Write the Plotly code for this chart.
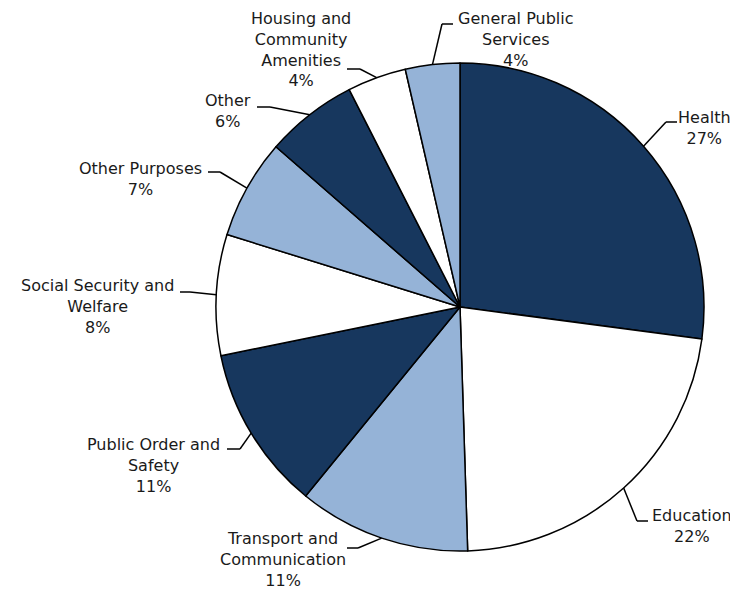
import math
import plotly.graph_objects as go

# ---- data ----
categories = ["Health", "Education", "Transport and<br>Communication", "Public Order and<br>Safety",
              "Social Security and<br>Welfare", "Other Purposes", "Other",
              "Housing and<br>Community<br>Amenities", "General Public<br>Services"]
shares = [27.1, 22.4, 11.4, 10.9, 8.0, 6.6, 6.1, 3.9, 3.6]

# ---- styles / layout ----
DARK, WHITE, LIGHT = "#17375E", "#FFFFFF", "#95B3D7"
colors = [DARK, WHITE, LIGHT, DARK, WHITE, LIGHT, DARK, WHITE, LIGHT]
PAGE_OFF = 8                     # page body margin in the browser
W, H = 738 - PAGE_OFF, 598 - 2 * PAGE_OFF
CX, CY, R = 460, 307, 244        # pie geometry in page pixels
FONT = dict(family="DejaVu Sans", size=16, color="#1a1a1a")

# label block (center x, first-line center y) and leader elbow/end (page px)
label_pos = [(704, 117), (692, 515), (283, 538), (153, 444), (97, 285),
             (140, 168), (228, 100), (301, 18), (516, 18)]
leader = [((666, 122), 677), ((637, 521), 648), ((358, 548), 347), ((240, 449), 227),
          ((190, 292), 180), ((220, 172), 208), ((270, 107), 257), ((360, 69), 347),
          ((442, 24), 453)]

def px(x):
    return (x - PAGE_OFF) / W

def py(y):
    return 1 - (y - PAGE_OFF) / H

fig = go.Figure(go.Pie(
    labels=[c.replace("<br>", " ") for c in categories],
    values=shares,
    sort=False,
    direction="clockwise",
    rotation=0,
    marker=dict(colors=colors, line=dict(color="#000000", width=1.5)),
    textinfo="none",
    hoverinfo="none",
    showlegend=False,
    domain=dict(x=[px(CX - R), px(CX + R)], y=[py(CY + R), py(CY - R)]),
))

total = sum(shares)
cum = 0.0
shapes, annotations = [], []
for cat, v, (tx, ty), ((ex, ey), endx) in zip(categories, shares, label_pos, leader):
    mid = (cum + v / 2) / total * 2 * math.pi
    cum += v
    sx, sy = CX + R * math.sin(mid), CY - R * math.cos(mid)
    line = dict(color="#000000", width=1.5)
    shapes.append(dict(type="line", xref="paper", yref="paper",
                       x0=px(sx), y0=py(sy), x1=px(ex), y1=py(ey), line=line))
    shapes.append(dict(type="line", xref="paper", yref="paper",
                       x0=px(ex), y0=py(ey), x1=px(endx), y1=py(ey), line=line))
    pct = round(v / total * 100)
    annotations.append(dict(text=f"{cat}<br>{pct}%", x=px(tx), y=py(ty - 11),
                            xref="paper", yref="paper", xanchor="center", yanchor="top",
                            showarrow=False, align="center", font=FONT))

fig.update_layout(width=W, height=H, margin=dict(l=0, r=0, t=0, b=0),
                  paper_bgcolor="white", plot_bgcolor="white",
                  shapes=shapes, annotations=annotations)
fig.write_html("out.html")
